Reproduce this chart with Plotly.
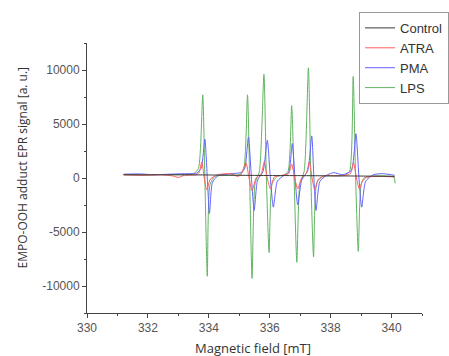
import plotly.graph_objects as go

# ---- data ----
ctrl_x = [331.2, 332.0, 333.0, 334.0, 335.0, 336.0, 337.0, 338.0, 339.0, 340.1]
ctrl_y = [300, 290, 300, 280, 250, 230, 220, 200, 180, 150]

atra_x = [331.2, 331.8, 332.4, 332.8, 333.0, 333.2, 333.6, 333.68, 333.77, 333.85, 333.93, 334.05, 334.3, 334.7, 334.95,
          335.05, 335.22, 335.32, 335.42, 335.55, 335.72, 335.82, 335.92, 336.02, 336.15, 336.4, 336.62, 336.72, 336.82,
          336.92, 337.05, 337.20, 337.30, 337.39, 337.48, 337.6, 337.85, 338.1, 338.5, 338.65, 338.75, 338.85, 338.94,
          339.1, 339.5, 340.1]
atra_y = [300, 250, 300, 200, 50, 250, 300, 500, 1500, 0, -1100, -100, 300, 400, 150,
          300, 1400, 0, -1200, 0, 400, 1500, 0, -1000, 100, 250, 400, 1300, 0,
          -1000, 0, 400, 1500, 0, -1100, -100, 250, 200, 250, 400, 1400, 0, -1000,
          0, 150, 100]

pma_x = [331.2, 331.7, 332.2, 332.7, 333.2, 333.6, 333.75, 333.87, 333.95, 334.02, 334.12, 334.3, 334.7, 335.05, 335.18,
         335.30, 335.40, 335.49, 335.60, 335.78, 335.92, 336.02, 336.12, 336.25, 336.45, 336.62, 336.74, 336.83, 336.92,
         337.05, 337.25, 337.38, 337.45, 337.52, 337.65, 337.9, 338.1, 338.4, 338.68, 338.83, 338.93, 339.02, 339.15,
         339.4, 339.7, 340.1]
pma_y = [350, 380, 300, 350, 400, 450, 900, 3600, 0, -3300, -400, 200, 400, 500, 900,
         3800, 0, -3000, -200, 600, 3500, 0, -2700, -300, 200, 500, 3200, 0, -2500,
         -200, 700, 3900, 0, -3000, -300, 300, 500, 300, 700, 4100, 0, -2700, -300,
         300, 400, 250]

lps_x = [331.2, 331.8, 332.4, 333.0, 333.5, 333.66, 333.80, 333.87, 333.95, 334.04, 334.2, 334.6, 335.0, 335.14, 335.27,
         335.34, 335.42, 335.52, 335.66, 335.81, 335.89, 335.98, 336.08, 336.25, 336.45, 336.60, 336.72, 336.80, 336.89,
         336.99, 337.13, 337.27, 337.35, 337.44, 337.55, 337.75, 338.1, 338.45, 338.62, 338.74, 338.82, 338.91, 339.02,
         339.2, 339.6, 340.0, 340.08, 340.12]
lps_y = [300, 280, 320, 300, 400, 900, 7700, 0, -9100, -600, 150, 250, 300, 700, 7700,
         0, -9300, -500, 600, 9600, 0, -6900, -500, 150, 250, 600, 6700, 0, -7800,
         -500, 600, 10200, 0, -7300, -400, 150, 200, 250, 600, 9400, 0, -6800, -400,
         100, 200, 150, 100, -500]

x_tickvals = [330, 332, 334, 336, 338, 340]
x_ticktext = ["330", "332", "334", "336", "338", "340"]
y_tickvals = [-10000, -5000, 0, 5000, 10000]
y_ticktext = ["-10000", "-5000", "0", "5000", "10000"]

series = [
    ("LPS", lps_x, lps_y, "#62b462"),
    ("PMA", pma_x, pma_y, "#6262ff"),
    ("ATRA", atra_x, atra_y, "#ff6060"),
    ("Control", ctrl_x, ctrl_y, "#3a3a3a"),
]

fig = go.Figure()
for name, xs, ys, col in series:
    fig.add_trace(go.Scatter(x=xs, y=ys, name=name, mode="lines",
                             line=dict(color=col, width=1, shape="spline", smoothing=0.6)))

font = "Liberation Sans, Arial, sans-serif"
axis_common = dict(showline=True, linecolor="#444", linewidth=1, ticks="outside", ticklen=4,
                   tickcolor="#444", showgrid=False, zeroline=False,
                   tickfont=dict(family=font, size=12, color="#555"))

fig.update_layout(
    width=449, height=356,
    margin=dict(l=87, r=27, t=43, b=43, autoexpand=False),
    paper_bgcolor="white", plot_bgcolor="white",
    font=dict(family=font, color="#333"),
    xaxis=dict(range=[330, 341], tickvals=x_tickvals, ticktext=x_ticktext,
               minor=dict(dtick=1, tick0=330, ticklen=2, ticks="outside", tickcolor="#444"), **axis_common),
    yaxis=dict(range=[-12500, 12500], tickvals=y_tickvals, ticktext=y_ticktext,
               minor=dict(dtick=2500, tick0=0, ticklen=2, ticks="outside", tickcolor="#444"), **axis_common),
    legend=dict(x=0.812, y=1.115, xanchor="left", yanchor="top", traceorder="reversed",
                bordercolor="#999", borderwidth=1, bgcolor="white",
                font=dict(family=font, size=13, color="#333")),
    annotations=[
        dict(text="Magnetic field [mT]", x=0.496, y=-0.13, xref="paper", yref="paper",
             showarrow=False, xanchor="center", yanchor="middle",
             font=dict(family="Open Sans, sans-serif", size=13, color="#333")),
        dict(text="EMPO-OOH adduct EPR signal [a. u.]", x=-0.194, y=0.539, xref="paper", yref="paper",
             showarrow=False, xanchor="center", yanchor="middle", textangle=-90,
             font=dict(family="Open Sans, sans-serif", size=12, color="#333")),
    ],
)

fig.write_html("out.html", config={"displayModeBar": False},
               post_script="document.body.style.margin='0';document.body.style.overflow='hidden';")
